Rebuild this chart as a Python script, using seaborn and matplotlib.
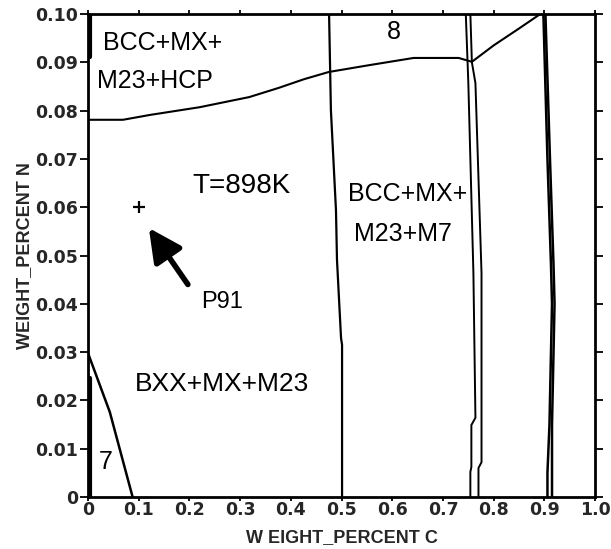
import matplotlib
matplotlib.use("Agg")
import matplotlib.pyplot as plt
import numpy as np
import pandas as pd
import seaborn as sns

# Boundary curves (wt% C, wt% N)
hcp_c = [0.0, 0.069, 0.122, 0.22, 0.318, 0.376, 0.426, 0.475, 0.554, 0.642, 0.731, 0.757]
hcp_n = [0.0781, 0.0781, 0.0791, 0.0807, 0.0828, 0.0847, 0.0865, 0.088, 0.0894, 0.0909, 0.0909, 0.0901]

m7_top_c = [0.757, 0.80, 0.85, 0.892]
m7_top_n = [0.0901, 0.0935, 0.0970, 0.100]

m7_c = [0.4754, 0.479, 0.489, 0.491, 0.499, 0.501, 0.501]
m7_n = [0.100, 0.0801, 0.0594, 0.0491, 0.0329, 0.0315, 0.0]

left75_c = [0.745, 0.750, 0.760, 0.764, 0.756, 0.756, 0.754, 0.754]
left75_n = [0.100, 0.0857, 0.0464, 0.0164, 0.0149, 0.0062, 0.0052, 0.0]

right75_c = [0.754, 0.757, 0.764, 0.776, 0.776, 0.770, 0.770]
right75_n = [0.100, 0.090, 0.0857, 0.0464, 0.0072, 0.0060, 0.0]

left90_c = [0.898, 0.906, 0.913, 0.915, 0.913, 0.910, 0.906, 0.906]
left90_n = [0.100, 0.070, 0.048, 0.040, 0.030, 0.015, 0.005, 0.0]
right90_c = [0.902, 0.911, 0.918, 0.920, 0.918, 0.915, 0.915, 0.915]
right90_n = [0.100, 0.070, 0.048, 0.040, 0.030, 0.015, 0.005, 0.0]

r7_c = [0.0, 0.043, 0.088]
r7_n = [0.0298, 0.0176, 0.0]

edge_low_c = [0.003, 0.003]
edge_low_n = [0.0, 0.0246]
edge_top_c = [0.003, 0.003]
edge_top_n = [0.091, 0.100]

p91_c = [0.10]
p91_n = [0.060]

x_ticks = [0, 0.1, 0.2, 0.3, 0.4, 0.5, 0.6, 0.7, 0.8, 0.9, 1.0]
x_labels = ["0", "0.1", "0.2", "0.3", "0.4", "0.5", "0.6", "0.7", "0.8", "0.9", "1.0"]
y_ticks = [0, 0.01, 0.02, 0.03, 0.04, 0.05, 0.06, 0.07, 0.08, 0.09, 0.10]
y_labels = ["0", "0.01", "0.02", "0.03", "0.04", "0.05", "0.06", "0.07", "0.08", "0.09", "0.10"]

sns.set_theme(style="ticks")
plt.rcParams["font.family"] = ["Liberation Sans", "DejaVu Sans"]

fig = plt.figure(figsize=(6.11, 5.49), dpi=100)
ax = fig.add_axes([0.144, 0.0947, 0.830, 0.8798])

curves = [
    (hcp_c, hcp_n, 1.5),
    (m7_top_c, m7_top_n, 1.5),
    (m7_c, m7_n, 1.6),
    (left75_c, left75_n, 1.4),
    (right75_c, right75_n, 1.4),
    (left90_c, left90_n, 1.8),
    (right90_c, right90_n, 1.8),
    (r7_c, r7_n, 1.8),
    (edge_low_c, edge_low_n, 3.0),
    (edge_top_c, edge_top_n, 3.0),
]
for cx, cy, lw in curves:
    df = pd.DataFrame({"C": cx, "N": cy})
    sns.lineplot(data=df, x="C", y="N", sort=False, color="black",
                 linewidth=lw, ax=ax, estimator=None)

ax.plot(p91_c, p91_n, marker="+", color="black", markersize=9, mew=1.6, ls="none")
ax.annotate("", xy=(0.120, 0.0557), xytext=(0.197, 0.0440),
            arrowprops=dict(arrowstyle="-|>,head_length=1.0,head_width=0.5",
                            color="black", lw=4.0, mutation_scale=20,
                            shrinkA=0, shrinkB=0))

txt = dict(color="black", ha="left", va="center")
ax.text(0.029, 0.0940, "BCC+MX+", fontsize=18, **txt)
ax.text(0.018, 0.0862, "M23+HCP", fontsize=18, **txt)
ax.text(0.604, 0.0962, "8", fontsize=18, ha="center", va="center", color="black")
ax.text(0.205, 0.0643, "T=898K", fontsize=20, **txt)
ax.text(0.512, 0.0627, "BCC+MX+", fontsize=18, **txt)
ax.text(0.525, 0.0545, "M23+M7", fontsize=18, **txt)
ax.text(0.224, 0.0403, "P91", fontsize=17, **txt)
ax.text(0.092, 0.0233, "BXX+MX+M23", fontsize=19, **txt)
ax.text(0.022, 0.0073, "7", fontsize=18, **txt)

ax.set_xlim(0, 1.0)
ax.set_ylim(0, 0.10)
ax.set_xticks(x_ticks)
ax.set_xticklabels(x_labels)
ax.set_yticks(y_ticks)
ax.set_yticklabels(y_labels)
ax.tick_params(axis="x", direction="out", length=3, width=1.3, color="black",
               labelsize=12.5, pad=0, top=True, labeltop=False)
ax.tick_params(axis="y", direction="out", length=6, width=1.3, color="black",
               labelsize=12.5, pad=1, right=True, labelright=False)
for lab in ax.get_xticklabels() + ax.get_yticklabels():
    lab.set_fontweight("bold")
    lab.set_family("DejaVu Sans")
for sp in ax.spines.values():
    sp.set_linewidth(2.0)
    sp.set_color("black")
    sp.set_visible(True)

ax.set_xlabel("W EIGHT_PERCENT C", fontsize=13, fontweight="bold", labelpad=7)
ax.set_ylabel("WEIGHT_PERCENT N", fontsize=13, fontweight="bold", labelpad=2)

fig.savefig("out.png", dpi=100)
